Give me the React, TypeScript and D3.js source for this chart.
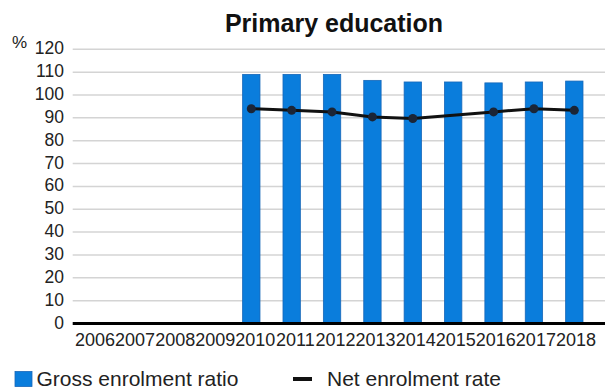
import React from "react";
import * as d3 from "d3";

const years = ["2006","2007","2008","2009","2010","2011","2012","2013","2014","2015","2016","2017","2018"];
const grossRatio: (number | null)[] = [null, null, null, null, 109, 109, 109, 106.4, 105.7, 105.7, 105.3, 105.7, 106.1];
const netRate: (number | null)[] = [null, null, null, null, 94.0, 93.3, 92.6, 90.4, 89.7, null, 92.6, 94.0, 93.3];
const yTicks = [0, 10, 20, 30, 40, 50, 60, 70, 80, 90, 100, 110, 120];

const W = 605;
const H = 389;
const FONT = "'Liberation Sans', Arial, sans-serif";

export default function App() {
  const y = d3.scaleLinear().domain([0, 120]).range([323.5, 49.3]);
  const x = d3.scaleBand<string>().domain(years).range([69.6, 594.5]).padding(0);
  const xLabel = d3.scaleBand<string>().domain(years).range([75, 596]).padding(0);
  const barW = x.bandwidth() * 0.43;
  const cx = (yr: string) => (x(yr) as number) + x.bandwidth() / 2;

  const lineData = years
    .map((yr, i) => ({ yr, v: netRate[i] }))
    .filter((d) => d.v !== null) as { yr: string; v: number }[];
  const line = d3
    .line<{ yr: string; v: number }>()
    .x((d) => cx(d.yr))
    .y((d) => y(d.v));

  return (
    <svg
      width={W}
      height={H}
      style={{ position: "absolute", left: 0, top: 0, background: "#fff" }}
      fontFamily={FONT}
    >
      <rect x={0} y={0} width={W} height={H} fill="#fff" />
      <text x={334} y={32} textAnchor="middle" fontSize={25} fontWeight="bold" fill="#111">
        Primary education
      </text>
      <text x={12} y={48} fontSize={17} fill="#222">%</text>
      {yTicks.map((t) => (
        <g key={t}>
          {t !== 0 && (
            <line x1={72.7} x2={W} y1={y(t)} y2={y(t)} stroke="#d4d4d4" strokeWidth={1.5} />
          )}
          <text x={64} y={y(t) + 5} textAnchor="end" fontSize={17.5} fill="#222">
            {t}
          </text>
        </g>
      ))}
      {years.map((yr, i) =>
        grossRatio[i] === null ? null : (
          <rect
            key={yr}
            x={cx(yr) - barW / 2}
            y={y(grossRatio[i] as number)}
            width={barW}
            height={y(0) - y(grossRatio[i] as number)}
            fill="#0a7ddc"
            stroke="#1767b8"
            strokeWidth={0.8}
          />
        )
      )}
      <line x1={72.7} x2={W} y1={y(0)} y2={y(0)} stroke="#000" strokeWidth={3} />
      <path d={line(lineData) || ""} fill="none" stroke="#111" strokeWidth={3} />
      {lineData.map((d) => (
        <circle key={d.yr} cx={cx(d.yr)} cy={y(d.v)} r={4.5} fill="#1b2536" />
      ))}
      {years.map((yr) => (
        <text
          key={yr}
          x={(xLabel(yr) as number) + xLabel.bandwidth() / 2}
          y={346}
          textAnchor="middle"
          fontSize={18}
          fill="#222"
        >
          {yr}
        </text>
      ))}
      <rect x={15} y={371.5} width={17} height={15} fill="#0a7ddc" stroke="#1767b8" strokeWidth={0.8} />
      <text x={36.5} y={386} fontSize={21} fill="#222">Gross enrolment ratio</text>
      <line x1={293} x2={312} y1={379} y2={379} stroke="#111" strokeWidth={4} />
      <text x={327} y={386} fontSize={21} fill="#222">Net enrolment rate</text>
    </svg>
  );
}
